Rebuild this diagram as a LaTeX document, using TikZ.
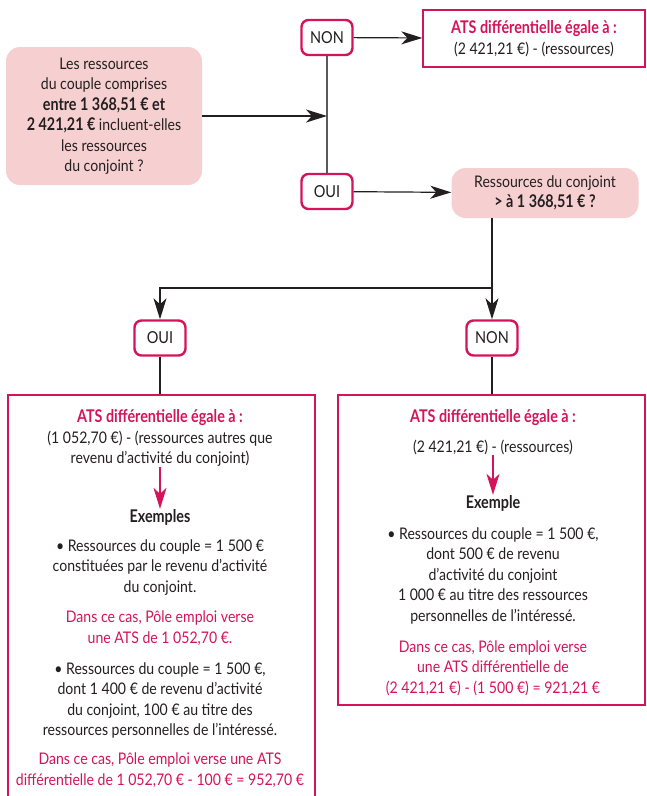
\documentclass[tikz,border=0pt]{standalone}
\usepackage{fontspec}
\setmainfont{Lato}[FakeStretch=0.88, BoldFeatures={FakeStretch=0.82}]
\usetikzlibrary{arrows.meta}
\definecolor{crim}{HTML}{D4145A}
\definecolor{pinkfill}{HTML}{F6D0D0}
\definecolor{ink}{HTML}{231F20}
\definecolor{vgray}{HTML}{5A5A5A}
\newcommand\boldtxt[1]{{\fontsize{17.5}{20.5}\selectfont\bfseries #1}}
\begin{document}
\begin{tikzpicture}[x=1pt,y=-1pt, font=\fontsize{16}{20.5}\selectfont, text=ink,
  tip/.style={-{Stealth[length=21pt,width=13pt,inset=6pt]}},
  conn/.style={draw=ink, line width=1.2pt},
  gconn/.style={draw=vgray, line width=1.6pt},
  yn/.style={draw=crim, line width=2.4pt, rounded corners=7pt, minimum width=51pt, minimum height=35pt, inner sep=0pt, fill=white, font=\fontsize{16.5}{20.5}\selectfont},
  qbox/.style={fill=pinkfill, rounded corners=14pt, align=center, inner sep=0pt},
  abox/.style={draw=crim, line width=1.3pt, inner sep=0pt},
  txt/.style={align=center, inner sep=0pt},
  hl/.style={text=crim, font=\fontsize{17.5}{20.5}\selectfont\bfseries},
  mg/.style={text=crim},
  inarrow/.style={draw=crim, line width=1.3pt, -{Stealth[length=21pt,width=13pt,inset=6pt]}}]
\useasboundingbox (0,0) rectangle (646,796);
\clip (0,0) rectangle (646,796);

% top question
\node[qbox, minimum width=196pt, minimum height=138pt] (q1) at (104,116)
  {Les ressources\\du couple comprises\\\boldtxt{entre 1 368,51 € et}\\\boldtxt{2 421,21 €} incluent-elles\\les ressources\\du conjoint ?};

\node[yn] (nonA) at (327,37.5) {NON};
\node[yn] (ouiA) at (327,191.5) {OUI};

\node[abox, txt, minimum width=222pt, minimum height=57pt] (ats1) at (534,38.5)
  {{\color{crim}\boldtxt{ATS différentielle égale à :}}\\(2 421,21 €) - (ressources)};

\node[qbox, minimum width=187pt, minimum height=50pt] (q2) at (545,193)
  {Ressources du conjoint\\\boldtxt{> à 1 368,51 € ?}};

\node[yn] (ouiB) at (160,338) {OUI};
\node[yn] (nonB) at (492,338) {NON};

% big boxes
\node[abox, minimum width=307pt, minimum height=410pt] (boxL) at (161.5,600) {};
\node[abox, minimum width=307pt, minimum height=310pt] (boxR) at (491.5,550) {};

% connectors
\draw[gconn] (nonA) -- (ouiA);
\draw[conn,tip] (q1.east) -- (q1.east -| nonA.south);
\draw[conn,tip] (nonA) -- (ats1);
\draw[conn,tip] (ouiA) -- (q2);
\coordinate (split) at (492,288);
\draw[conn] (q2.south -| split) -- (split);
\draw[conn,tip] (split) -- (nonB);
\draw[conn,tip] (split) -| (ouiB);
\draw[conn] (ouiB) -- (ouiB |- boxL.north);
\draw[conn] (nonB) -- (nonB |- boxR.north);

% left box content
\node[txt,hl] (l1) at (160,418) {ATS différentielle égale à :};
\node[txt] (l2) at (160,448.5) {(1 052,70 €) - (ressources autres que\\revenu d’activité du conjoint)};
\node[txt, font=\fontsize{17.5}{20.5}\selectfont\bfseries] (l3) at (160,517) {Exemples};
\node[txt] (l4) at (160,567.5) {• Ressources du couple = 1 500 €\\constituées par le revenu d’activité\\du conjoint.};
\node[txt,mg] (l5) at (160,628) {Dans ce cas, Pôle emploi verse\\une ATS de 1 052,70 €.};
\node[txt] (l6) at (160,700.5) {• Ressources du couple = 1 500 €,\\dont 1 400 € de revenu d’activité\\du conjoint, 100 € au titre des\\ressources personnelles de l’intéressé.};
\node[txt,mg] (l7) at (160,770) {Dans ce cas, Pôle emploi verse une ATS\\différentielle de 1 052,70 € - 100 € = 952,70 €};
\draw[inarrow] (l2.south) -- (l3.north);

% right box content
\node[txt,hl] (r1) at (493,418) {ATS différentielle égale à :};
\node[txt] (r2) at (493,447) {(2 421,21 €) - (ressources)};
\node[txt, font=\fontsize{17.5}{20.5}\selectfont\bfseries] (r3) at (493,503) {Exemple};
\node[txt] (r4) at (493,575.5) {• Ressources du couple = 1 500 €,\\dont 500 € de revenu\\d’activité du conjoint\\1 000 € au titre des ressources\\personnelles de l’intéressé.};
\node[txt,mg] (r5) at (493,668) {Dans ce cas, Pôle emploi verse\\une ATS différentielle de\\(2 421,21 €) - (1 500 €) = 921,21 €};
\draw[inarrow] (r2.south) -- (r3.north);
\end{tikzpicture}
\end{document}
